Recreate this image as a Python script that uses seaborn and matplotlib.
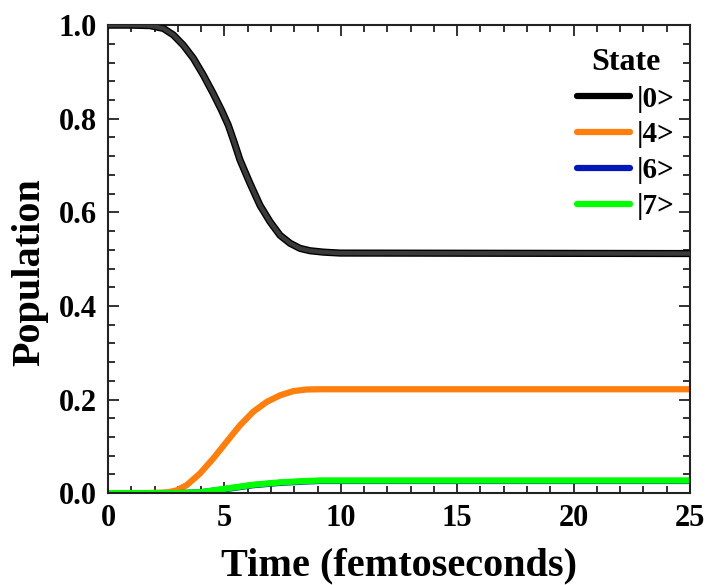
import numpy as np
import pandas as pd
import matplotlib
matplotlib.use("Agg")
import matplotlib.pyplot as plt
import matplotlib.patheffects as pe
from matplotlib.ticker import MultipleLocator, FormatStrFormatter
import seaborn as sns

# ---- data ----
time0 = [0, 1, 1.8, 2.38, 2.81, 3.24, 3.67, 4.10, 4.52, 4.88, 5.17, 5.42, 5.67, 6.10, 6.53, 6.96,
         7.39, 7.82, 8.25, 8.68, 9.25, 9.97, 25]
state0 = [1.0, 1.0, 0.999, 0.993, 0.979, 0.957, 0.929, 0.893, 0.854, 0.818, 0.786, 0.750, 0.712, 0.662,
          0.615, 0.580, 0.551, 0.534, 0.523, 0.518, 0.515, 0.513, 0.512]
time4 = [0, 1.5, 2.23, 2.6, 2.95, 3.38, 3.95, 4.52, 5.10, 5.67, 6.24, 6.82, 7.39, 7.96, 8.53, 9.1, 25]
state4 = [0.0, 0.0, 0.001, 0.002, 0.006, 0.017, 0.042, 0.074, 0.110, 0.145, 0.174, 0.195, 0.209, 0.218,
          0.2215, 0.222, 0.222]
time6 = [0, 3.0, 4.0, 5.1, 6.24, 7.39, 8.53, 9.1, 25]
state6 = [0.0, 0.0, 0.002, 0.009, 0.017, 0.022, 0.025, 0.026, 0.026]
time7 = [0, 3.0, 4.0, 5.1, 6.24, 7.39, 8.53, 9.1, 25]
state7 = [0.0, 0.0, 0.002, 0.010, 0.018, 0.023, 0.026, 0.027, 0.027]
state_labels = ["|0>", "|4>", "|6>", "|7>"]
colors = ["#000000", "#FF7F0E", "#0018B8", "#00FF00"]

df = pd.concat([
    pd.DataFrame({"Time": t, "Population": vals, "State": lab})
    for t, vals, lab in zip([time0, time4, time6, time7], [state0, state4, state6, state7], state_labels)
], ignore_index=True)

sns.set_theme(style="ticks")
plt.rcParams['font.family'] = ['Liberation Serif', 'DejaVu Serif']
plt.rcParams['font.weight'] = 'bold'
for k in ['text.color', 'axes.labelcolor', 'xtick.color', 'ytick.color', 'axes.edgecolor']:
    plt.rcParams[k] = 'black'

fig = plt.figure(figsize=(7.08, 5.85), dpi=100)
ax = fig.add_axes([0.1525, 0.157, 0.8221, 0.8])

sns.lineplot(data=df, x="Time", y="Population", hue="State", hue_order=state_labels,
             palette=dict(zip(state_labels, colors)), linewidth=4.5, ax=ax, sort=False)

# give the black curve its grey core like the reference
for line in ax.lines:
    if matplotlib.colors.to_hex(line.get_color()) == "#000000":
        line.set_color("#3a3a3a")
        line.set_linewidth(3.2)
        line.set_path_effects([pe.Stroke(linewidth=5.2, foreground="black"), pe.Normal()])
        line.set_zorder(5)
    line.set_solid_joinstyle('round')

ax.set_xlim(0, 25)
ax.set_ylim(0, 1.0)
ax.xaxis.set_major_locator(MultipleLocator(5))
ax.xaxis.set_minor_locator(MultipleLocator(1))
ax.yaxis.set_major_locator(MultipleLocator(0.2))
ax.yaxis.set_minor_locator(MultipleLocator(0.04))
ax.yaxis.set_major_formatter(FormatStrFormatter('%.1f'))
ax.tick_params(which='both', direction='in', top=True, right=True, width=1.3, color='#222222')
ax.tick_params(which='major', length=8, labelsize=22)
ax.tick_params(axis='x', which='major', pad=8)
ax.tick_params(axis='y', which='major', pad=8)
ax.tick_params(which='minor', length=5)
for lab in ax.get_xticklabels() + ax.get_yticklabels():
    lab.set_fontweight('bold')
for sp in ax.spines.values():
    sp.set_linewidth(1.5)
    sp.set_color('#222222')

ax.set_xlabel("Time (femtoseconds)", fontsize=29, fontweight='bold', labelpad=10)
ax.set_ylabel("Population", fontsize=29, fontweight='bold')
ax.yaxis.set_label_coords(-0.102, 0.472)

leg = ax.legend(title="State", loc='upper right', bbox_to_anchor=(1.009, 0.995), frameon=False,
                prop={'size': 21, 'weight': 'bold'}, handlelength=1.8, handletextpad=0.25,
                labelspacing=0.3, borderaxespad=0.3)
leg.get_title().set_fontsize(23)
leg.get_title().set_fontweight('bold')
for h, c in zip(leg.get_lines(), colors):
    h.set_color(c)
    h.set_linewidth(4.5)
    h.set_path_effects([])

fig.savefig("out.png", dpi=100)
